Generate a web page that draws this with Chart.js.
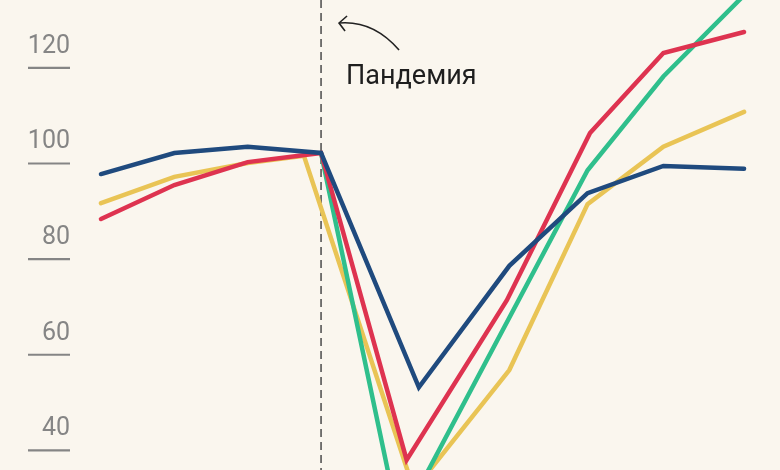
<!DOCTYPE html>
<html>
<head>
<meta charset="utf-8">
<script src="https://cdn.jsdelivr.net/npm/chart.js@4"></script>
<style>
  html, body { margin: 0; padding: 0; background: #faf6ee; }
  #wrap { width: 780px; height: 470px; }
</style>
</head>
<body>
<div id="wrap"><canvas id="chart" width="780" height="470"></canvas></div>
<script>
// months from start of the series
const blueX   = [0, 3, 6, 9, 13, 16.7, 19.9, 23, 26.3];
const blueY   = [95.6, 100, 101.3, 100, 51.0, 76.4, 91.6, 97.3, 96.7];
const redX    = [0, 3, 6, 9, 12.5, 16.6, 20, 23, 26.3];
const redY    = [86.2, 93.3, 98.1, 100, 35.8, 69.2, 104.2, 120.9, 125.3];
const yellowX = [0, 3, 6, 8.3, 12.8, 16.7, 19.9, 23, 26.3];
const yellowY = [89.5, 95.0, 97.9, 99.4, 29.5, 54.6, 89.3, 101.3, 108.6];
const greenX  = [9, 12.2, 19.9, 23, 26.3];
const greenY  = [100, 22.2, 96.4, 116.0, 133];

const yTicks = [40, 60, 80, 100, 120];
const pandemicX = 9;
const pandemicLabel = 'Пандемия';

const toPoints = (xs, ys) => xs.map((x, i) => ({ x, y: ys[i] }));

function lineSet(label, xs, ys, color) {
  return {
    label,
    data: toPoints(xs, ys),
    borderColor: color,
    borderWidth: 4.5,
    pointRadius: 0,
    tension: 0,
    borderJoinStyle: 'miter',
    borderCapStyle: 'round',
    fill: false
  };
}

// background, dashed line, annotation, y labels
const decor = {
  id: 'decor',
  beforeDraw(chart) {
    const { ctx, width, height } = chart;
    ctx.save();
    ctx.fillStyle = '#faf6ee';
    ctx.fillRect(0, 0, width, height);
    ctx.restore();
  },
  beforeDatasetsDraw(chart) {
    const { ctx, scales } = chart;
    const x = scales.x.getPixelForValue(pandemicX);

    ctx.save();
    ctx.strokeStyle = '#4a4a4a';
    ctx.lineWidth = 1.5;
    ctx.setLineDash([8, 5]);
    ctx.beginPath();
    ctx.moveTo(x, 0);
    ctx.lineTo(x, chart.height);
    ctx.stroke();
    ctx.setLineDash([]);

    // y labels with short underline
    ctx.font = '25px Roboto';
    ctx.fillStyle = '#858585';
    ctx.strokeStyle = '#858585';
    ctx.lineWidth = 2.2;
    ctx.textAlign = 'right';
    ctx.textBaseline = 'middle';
    yTicks.forEach(v => {
      const y = scales.y.getPixelForValue(v);
      ctx.fillText(String(v), 70, y - 11);
      ctx.beginPath();
      ctx.moveTo(28, y + 10.5);
      ctx.lineTo(70, y + 10.5);
      ctx.stroke();
    });

    // annotation
    ctx.fillStyle = '#1e1e1e';
    ctx.textAlign = 'left';
    ctx.textBaseline = 'alphabetic';
    ctx.font = '27px Roboto';
    ctx.fillText(pandemicLabel, x + 25, 84);

    ctx.strokeStyle = '#222';
    ctx.lineWidth = 1.6;
    ctx.beginPath();
    ctx.moveTo(x + 78, 50);
    ctx.quadraticCurveTo(x + 52, 20, x + 18, 23);
    ctx.stroke();
    ctx.beginPath();
    ctx.moveTo(x + 26, 16);
    ctx.lineTo(x + 18, 23);
    ctx.lineTo(x + 24, 31);
    ctx.stroke();
    ctx.restore();
  }
};

// first dataset is drawn on top
new Chart(document.getElementById('chart'), {
  type: 'line',
  data: {
    datasets: [
      lineSet('Синяя', blueX, blueY, '#1f4a7e'),
      lineSet('Красная', redX, redY, '#de3350'),
      lineSet('Зелёная', greenX, greenY, '#2fbf8c'),
      lineSet('Жёлтая', yellowX, yellowY, '#e9c455')
    ]
  },
  options: {
    responsive: false,
    animation: false,
    layout: { padding: 0 },
    plugins: { legend: { display: false }, tooltip: { enabled: false } },
    scales: {
      x: { type: 'linear', min: -4.13, max: 27.77, display: false },
      y: { type: 'linear', min: 33.7, max: 132, display: false }
    }
  },
  plugins: [decor]
});
</script>
</body>
</html>
